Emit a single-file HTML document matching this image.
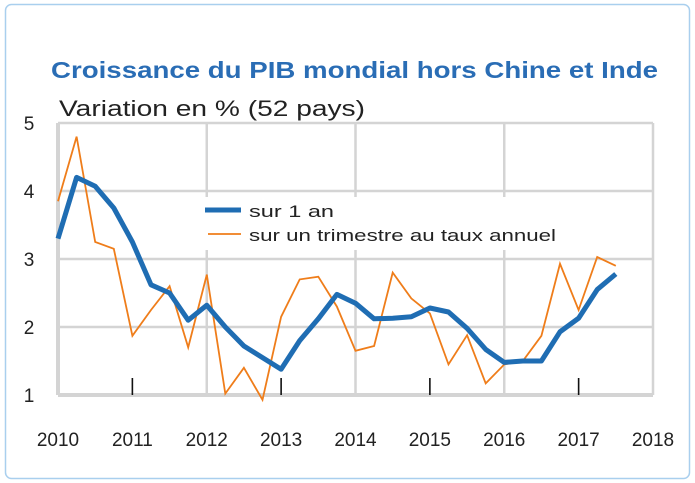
<!DOCTYPE html>
<html><head><meta charset="utf-8"><style>
body{margin:0;background:#fff;}
svg{display:block;font-family:"Liberation Sans",sans-serif;}
</style></head><body>
<svg width="695" height="483" viewBox="0 0 695 483">
<rect x="5.5" y="4.5" width="684" height="474" rx="6" fill="#fff" stroke="#a9cfee" stroke-width="1.5"/>
<text x="51" y="78" font-size="23.5" font-weight="bold" fill="#2a6db5" textLength="607" lengthAdjust="spacingAndGlyphs">Croissance du PIB mondial hors Chine et Inde</text>
<text x="59" y="116" font-size="22" fill="#222" textLength="306" lengthAdjust="spacingAndGlyphs">Variation en % (52 pays)</text>
<g id="grid"></g>
<g id="axes"></g>
<g id="series"></g>
<g>
<rect x="198" y="197" width="362" height="53" fill="#fff"/>
<line x1="205" y1="210" x2="241" y2="210" stroke="#1f6db3" stroke-width="5"/>
<text x="249" y="217" font-size="17" fill="#222" textLength="85" lengthAdjust="spacingAndGlyphs">sur 1 an</text>
<line x1="208" y1="234" x2="241" y2="234" stroke="#ef7d1a" stroke-width="1.8"/>
<text x="249" y="241" font-size="17" fill="#222" textLength="307" lengthAdjust="spacingAndGlyphs">sur un trimestre au taux annuel</text>
</g>
</svg>
<script>
const yearLabels=["2010","2011","2012","2013","2014","2015","2016","2017","2018"];
const yTicks=[1,2,3,4,5];
const startYear=2010;
const annual=[3.3,4.2,4.07,3.75,3.25,2.62,2.5,2.1,2.32,2.0,1.72,1.55,1.38,1.8,2.12,2.48,2.35,2.12,2.13,2.15,2.28,2.22,1.98,1.67,1.48,1.5,1.5,1.93,2.13,2.55,2.78];
const quarterly=[3.85,4.8,3.25,3.15,1.87,2.25,2.6,1.7,2.77,1.02,1.4,0.93,2.15,2.7,2.74,2.3,1.65,1.72,2.8,2.42,2.2,1.45,1.88,1.17,1.45,1.5,1.87,2.93,2.25,3.03,2.9];
const NS="http://www.w3.org/2000/svg";
const X0=58,X1=653,Y0=395,Y1=123;
const xs=t=>X0+(t-2010)/8*(X1-X0);
const ys=v=>Y0-(v-1)/4*(Y0-Y1);
function mk(tag,attrs,parent){const e=document.createElementNS(NS,tag);for(const k in attrs)e.setAttribute(k,attrs[k]);parent.appendChild(e);return e;}
const grid=document.getElementById('grid'),axes=document.getElementById('axes'),series=document.getElementById('series');
yTicks.forEach(v=>{
 const l=mk('line',{x1:X0,x2:X1,y1:ys(v),y2:ys(v),stroke:'#d4d4d4','stroke-width':v===1?4:2.5},grid);
 
 
 const t=mk('text',{x:29,y:ys(v)+7,'font-size':19,fill:'#222','text-anchor':'middle'},axes);
 t.textContent=v;
 
 
});
yearLabels.forEach((lab,i)=>{
 const x=xs(+lab);
 if(i%2===0){
  const g=mk('line',{x1:x,x2:x,y1:Y1,y2:Y0,stroke:'#d4d4d4','stroke-width':i===0?4:2.5},grid);
  
  
 } else {
  const tk=mk('line',{x1:x,x2:x,y1:Y0-17,y2:Y0,stroke:'#111','stroke-width':1.6},axes);
  
  
 }
 const t=mk('text',{x:x,y:446,'font-size':19,fill:'#222','text-anchor':'middle'},axes);
 t.textContent=lab;
 
 
});
function pts(arr){return arr.map((v,i)=>xs(startYear+i*0.25).toFixed(1)+','+ys(v).toFixed(1)).join(' ');}
const q=mk('polyline',{points:pts(quarterly),fill:'none',stroke:'#ef7d1a','stroke-width':1.8,'stroke-linejoin':'miter'},series);


const a=mk('polyline',{points:pts(annual),fill:'none',stroke:'#1f6db3','stroke-width':5,'stroke-linejoin':'round'},series);


</script>
</body></html>
